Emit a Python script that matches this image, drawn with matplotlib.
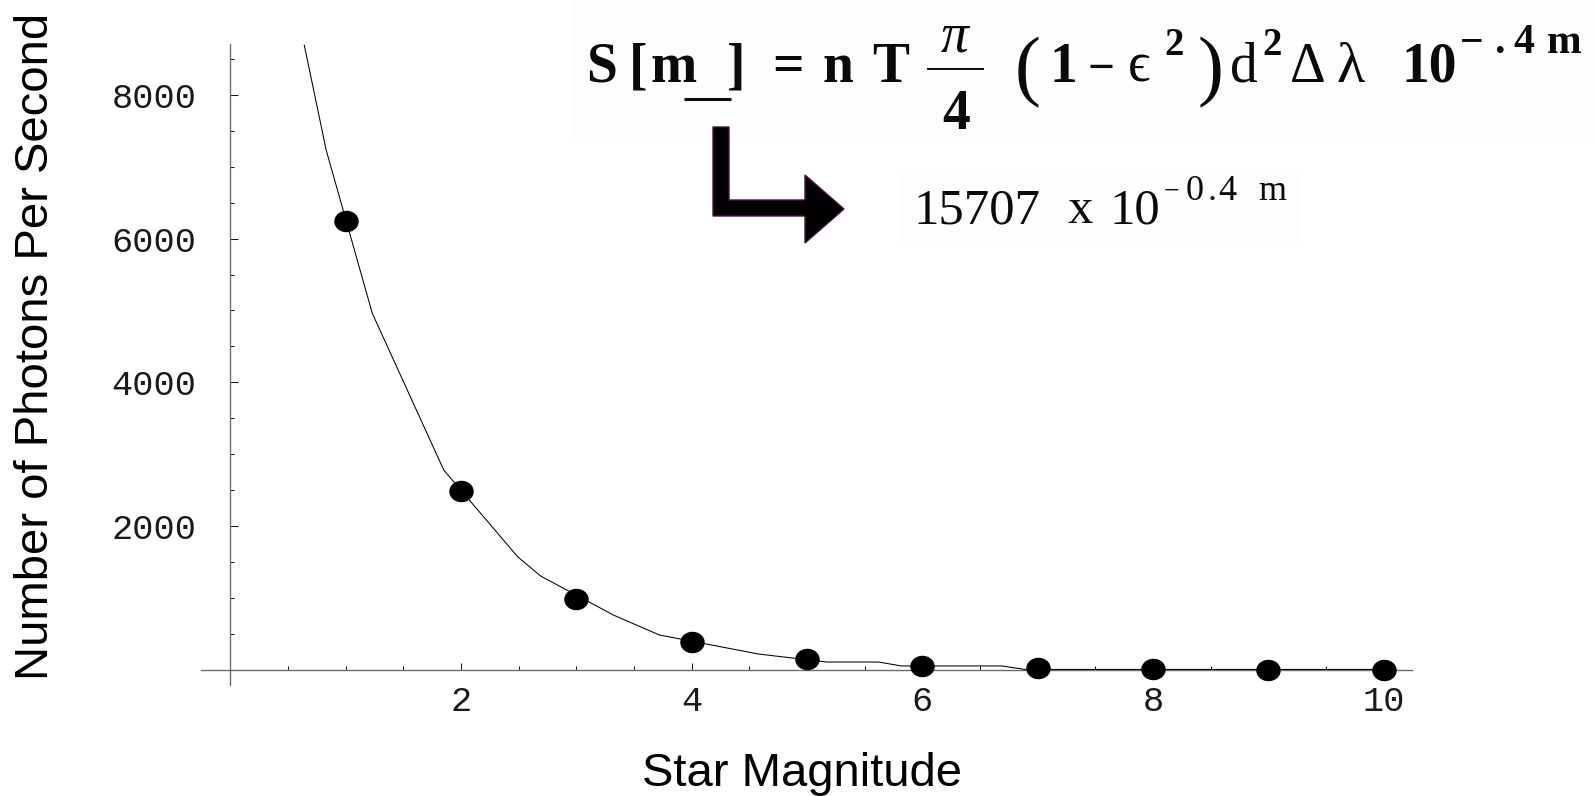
import matplotlib
matplotlib.use('Agg')
import matplotlib.pyplot as plt
from matplotlib.path import Path
from matplotlib.patches import Polygon, Rectangle
from matplotlib.lines import Line2D
from matplotlib.transforms import Affine2D
from matplotlib.ticker import FixedLocator

# --- data ---
magnitudes = [1, 2, 3, 4, 5, 6, 7, 8, 9, 10]
photons = [6250, 2490, 990, 395, 157, 62, 25, 10, 4, 2]

# vertices of the (coarsely sampled) curve as Mathematica drew it
curve_m = [0.64, 0.83, 1.23, 1.85, 2.49, 2.69, 3.32, 3.72, 4.58, 5.17, 5.62, 5.82, 6.69, 6.89, 10.0]
curve_s = [8690, 7230, 4960, 2780, 1576, 1307, 765, 487, 222, 111, 111, 56, 56, 8, 8]

x_ticks = [2, 4, 6, 8, 10]
y_ticks = [2000, 4000, 6000, 8000]
x_minor = [0.5, 1, 1.5, 2.5, 3, 3.5, 4.5, 5, 5.5, 6.5, 7, 7.5, 8.5, 9, 9.5]
y_minor = [500, 1000, 1500, 2500, 3000, 3500, 4500, 5000, 5500, 6500, 7000, 7500, 8500]

W, H, DPI = 1594, 796, 100

plt.rcParams['font.family'] = ['Liberation Mono', 'DejaVu Sans']

fig = plt.figure(figsize=(W / DPI, H / DPI), dpi=DPI)
fig.patch.set_facecolor('white')


def fx(x):
    return x / W


def fy(y):
    # picture pixels are counted from the top
    return 1 - y / H


def put(s, x, y, size, weight='normal', style='normal', ha='left'):
    # one piece of the pasted formula, x/y in picture pixels (baseline)
    fig.text(fx(x), fy(y), s, family=['Liberation Serif', 'DejaVu Serif'], fontsize=size,
             fontweight=weight, fontstyle=style, ha=ha, va='baseline', color='#0a0a0a')


def hline(x1, x2, y, lw):
    fig.add_artist(Line2D([fx(x1), fx(x2)], [fy(y), fy(y)], transform=fig.transFigure,
                          color='#0a0a0a', lw=lw, solid_capstyle='butt'))


# axes fill the figure, origin placed where Mathematica put it
x0_px, y0_px = 230.5, 670
px_per_x = 115.3
px_per_y = 0.0719

ax = fig.add_axes([0, 0, 1, 1])
ax.set_xlim(-x0_px / px_per_x, (W - x0_px) / px_per_x)
ax.set_ylim(-(H - y0_px) / px_per_y, y0_px / px_per_y)
ax.patch.set_visible(False)

for side in ['top', 'right']:
    ax.spines[side].set_visible(False)
ax.spines['left'].set_position(('data', 0))
ax.spines['bottom'].set_position(('data', 0))
ax.spines['left'].set_bounds(-210, 8700)
ax.spines['bottom'].set_bounds(-0.26, 10.25)
for side in ['left', 'bottom']:
    ax.spines[side].set_color('#6d6d6d')
    ax.spines[side].set_linewidth(1.0)

ax.set_xticks(x_ticks)
ax.set_yticks(y_ticks)
ax.xaxis.set_minor_locator(FixedLocator(x_minor))
ax.yaxis.set_minor_locator(FixedLocator(y_minor))
ax.tick_params(which='major', direction='in', length=5.4, width=0.75, color='#1a1a1a',
               labelsize=25.5, labelcolor='#1a1a1a')
ax.tick_params(which='minor', direction='in', length=2.6, width=0.75, color='#1a1a1a')
ax.tick_params(axis='x', pad=11)
ax.tick_params(axis='y', pad=24.5)

# curve + points
ax.plot(curve_m, curve_s, color='black', lw=0.75, zorder=3)
ell = Path.unit_circle().transformed(Affine2D().scale(1.0, 0.87))
ax.plot(magnitudes, photons, ls='none', marker=ell, ms=16.6, color='black', zorder=4, clip_on=False)

# axis titles
fig.text(fx(802), fy(786), 'Star Magnitude', family='Liberation Sans', fontsize=34,
         ha='center', va='baseline')
fig.text(fx(36), fy(346.5), 'Number of Photons Per Second', family='Liberation Sans',
         fontsize=34, rotation=90, ha='center', va='center')

# formula boxes (pasted images in the original), barely off-white
fig.add_artist(Rectangle((fx(572), fy(138)), fx(W) - fx(572), fy(0) - fy(138),
                         transform=fig.transFigure, facecolor='#fdfdfd', edgecolor='none', zorder=-1))
fig.add_artist(Rectangle((fx(900), fy(245)), fx(1301) - fx(900), fy(170) - fy(245),
                         transform=fig.transFigure, facecolor='#fdfdfd', edgecolor='none', zorder=-1))

# S[m_] = nT pi/4 (1 - eps^2) d^2 dLambda 10^-.4m
put('S', 586, 82, 40, 'bold')
put('[', 629, 82, 40, 'bold')
put('m', 651, 82, 40, 'bold')
hline(684, 731, 98.5, 2.2)
put(']', 727, 82, 40, 'bold')
put('=', 772, 82, 40, 'bold')
put('n', 822, 82, 40, 'bold')
put('T', 872, 82, 40, 'bold')
put('π', 955, 52, 40, style='italic', ha='center')
hline(927, 984, 69, 1.4)
put('4', 956, 129, 40, 'bold', ha='center')
put('(', 1015, 91, 56)
put('1', 1050, 82, 40, 'bold')
put('\u2212', 1088, 82, 34, 'bold')
put('\u03f5', 1128, 82, 40)
put('2', 1164, 55, 28, 'bold')
put(')', 1197, 91, 56)
put('d', 1230, 82, 40)
put('2', 1262, 55, 28, 'bold')
put('Δ', 1290, 82, 40)
put('λ', 1336, 82, 42)
put('10', 1402, 82, 40, 'bold')
put('\u2212', 1460, 53, 30, 'bold')
put('.', 1494, 53, 30, 'bold')
put('4', 1513, 53, 30, 'bold')
put('m', 1547, 53, 30, 'bold')

# 15707 x 10^-0.4 m
put('15707', 913, 223, 36.5)
put('x', 1068, 223, 36.5)
put('10', 1109, 223, 36.5)
put('\u2212', 1164, 199, 20)
put('0', 1186, 200, 26)
put('.', 1208, 200, 26)
put('4', 1218, 200, 26)
put('m', 1258, 200, 26)

# L-shaped arrow
arrow_px = [(713, 127), (729, 127), (729, 200), (805, 200), (805, 175), (844, 209),
            (805, 243), (805, 216), (713, 216)]
fig.add_artist(Polygon([(fx(x), fy(y)) for x, y in arrow_px], closed=True,
                       transform=fig.transFigure, facecolor='black', edgecolor='#4a104a', lw=1))

fig.savefig('out.png', dpi=DPI)
